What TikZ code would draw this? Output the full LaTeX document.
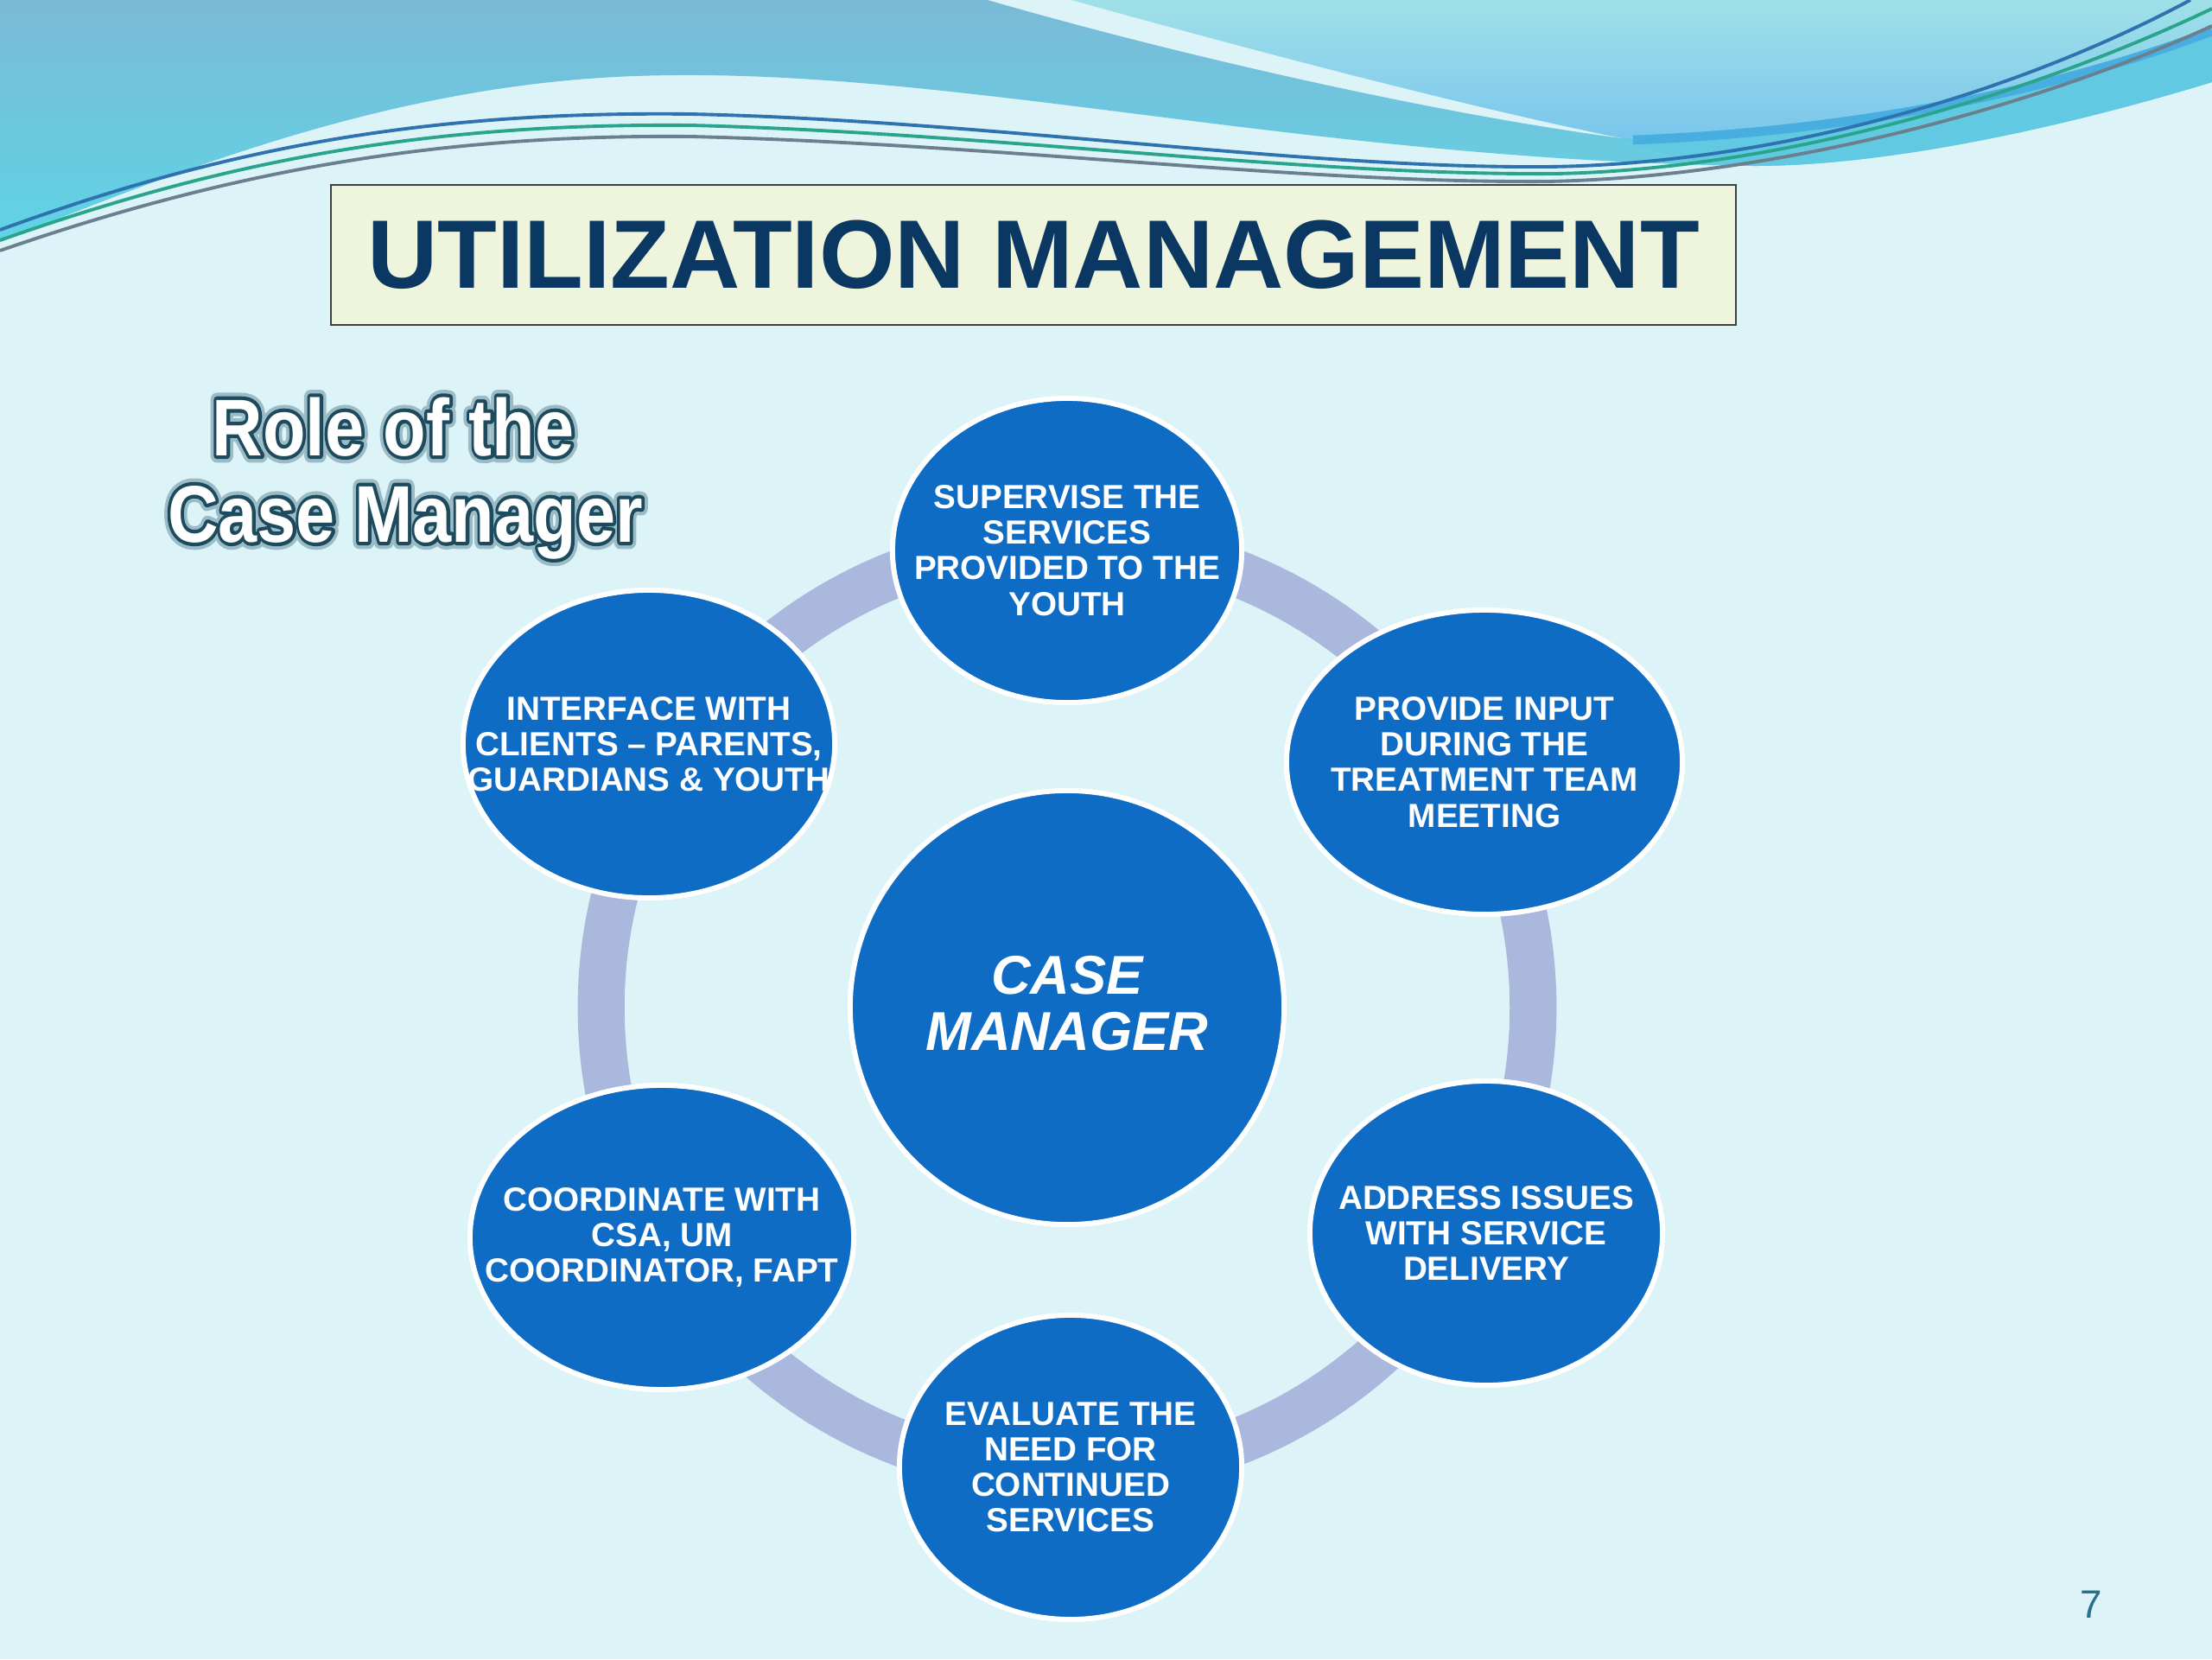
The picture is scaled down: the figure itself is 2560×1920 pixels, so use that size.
\documentclass[tikz,border=0pt]{standalone}
\usepackage{fontspec}
\setmainfont{Liberation Sans}
\newfontfamily\roleout[FakeBold=9]{Liberation Sans Bold}
\newfontfamily\roleglow[FakeBold=18]{Liberation Sans Bold}
\newfontfamily\rolein{Liberation Sans Bold}
\usetikzlibrary{shapes.geometric}
\definecolor{bg}{HTML}{DCF3F8}
\definecolor{waveAtop}{HTML}{7ABAD7}
\definecolor{waveAbot}{HTML}{5FD4E5}
\definecolor{waveBtop}{HTML}{A0E0E8}
\definecolor{waveBbot}{HTML}{7AC6EC}
\definecolor{waveC}{HTML}{62C9E2}
\definecolor{stripe}{HTML}{48AEE0}
\definecolor{lineA}{HTML}{2F72B0}
\definecolor{lineB}{HTML}{2AA58C}
\definecolor{lineC}{HTML}{6C7F8E}
\definecolor{titlefill}{HTML}{EFF4DD}
\definecolor{titletext}{HTML}{0B3763}
\definecolor{cmblue}{HTML}{0F6CC5}
\definecolor{ringc}{HTML}{AAB8DE}
\definecolor{outl}{HTML}{1D4A5C}
\definecolor{glow}{HTML}{9BBCC6}
\definecolor{pgnum}{HTML}{2A6F8A}
\begin{document}
\begin{tikzpicture}[x=0.01cm,y=-0.01cm,
  item/.style={ellipse, draw=white, line width=1.7pt, fill=cmblue, inner sep=0pt},
  itemtext/.style={text=white, font=\bfseries\fontsize{11}{11.7}\selectfont, align=center, inner sep=0pt},
  titlebox/.style={draw=black!75, line width=0.8pt, fill=titlefill, minimum width=16.25cm, minimum height=1.62cm, inner sep=0pt,
     text=titletext, font=\bfseries\fontsize{32}{32}\selectfont},
  rolebase/.style={anchor=base, inner sep=0pt, line join=round},
  thinline/.style={line width=1.1pt}
]
\useasboundingbox (0,0) rectangle (2560,1920);
\fill[bg] (0,0) rectangle (2560,1920);

% --- top waves ---
\shade[top color=waveAtop, bottom color=waveAbot]
  (0,0) -- (1143,0) .. controls (1350,60) and (1650,130) .. (1877,160)
  .. controls (2150,150) and (2380,100) .. (2560,30) -- (2560,95)
  .. controls (2380,150) and (2180,192) .. (2030,192)
  .. controls (1500,185) and (1100,75) .. (735,88)
  .. controls (450,98) and (200,200) .. (0,280) -- cycle;
\fill[waveC] (1877,160) .. controls (2150,150) and (2380,100) .. (2560,30) -- (2560,95)
  .. controls (2380,150) and (2180,192) .. (2030,192) .. controls (1960,190) and (1910,175) .. (1877,160) -- cycle;
\shade[top color=waveBtop, bottom color=waveBbot]
  (1240,0) -- (2560,0) -- (2560,30) .. controls (2380,100) and (2150,150) .. (1877,160)
  .. controls (1680,120) and (1420,50) .. (1240,0) -- cycle;
\draw[stripe, line width=3pt] (1890,162) .. controls (2150,152) and (2380,104) .. (2560,36);
\draw[thinline, lineA] (0,266) .. controls (250,175) and (480,128) .. (800,132)
  .. controls (1150,140) and (1500,195) .. (1790,193) .. controls (2050,190) and (2330,110) .. (2535,0);
\draw[thinline, lineB] (0,278) .. controls (250,190) and (480,142) .. (800,145)
  .. controls (1150,154) and (1500,203) .. (1800,201) .. controls (2060,196) and (2350,110) .. (2560,10);
\draw[thinline, lineC] (0,290) .. controls (260,200) and (500,155) .. (800,158)
  .. controls (1160,167) and (1500,212) .. (1790,210) .. controls (2060,205) and (2360,122) .. (2560,30);

% --- title ---
\node[titlebox] (title) at (1196,295) {UTILIZATION MANAGEMENT};

% --- side heading ---
\node[rolebase, text=glow, font=\roleglow\fontsize{26.5}{26.5}\selectfont] (role1g) at (455,527) {\scalebox{0.87}[1]{Role of the}};
\node[rolebase, text=outl, font=\roleout\fontsize{26.5}{26.5}\selectfont] (role1o) at (455,527) {\scalebox{0.87}[1]{Role of the}};
\node[rolebase, text=white, font=\rolein\fontsize{26.5}{26.5}\selectfont] (role1) at (455,527) {\scalebox{0.87}[1]{Role of the}};
\node[rolebase, text=glow, font=\roleglow\fontsize{26.5}{26.5}\selectfont] (role2g) at (469,627) {\scalebox{0.87}[1]{Case Manager}};
\node[rolebase, text=outl, font=\roleout\fontsize{26.5}{26.5}\selectfont] (role2o) at (469,627) {\scalebox{0.87}[1]{Case Manager}};
\node[rolebase, text=white, font=\rolein\fontsize{26.5}{26.5}\selectfont] (role2) at (469,627) {\scalebox{0.87}[1]{Case Manager}};

% --- centre ---
\node[circle, draw=white, line width=1.7pt, fill=cmblue, minimum size=5.02cm, inner sep=0pt] (cm) at (1235,1166) {};
\node[text=white, font=\bfseries\itshape\fontsize{18}{18.5}\selectfont, align=center, inner sep=0pt] (cmt) at (1235,1161) {CASE\\MANAGER};

% --- ring ---
\draw[ringc, line width=15.4pt] (cm.center) circle[radius=5.39cm];

% --- outer items ---
\node[item, minimum width=4.04cm, minimum height=3.52cm] (sup) at (1235,637) {};
\node[item, minimum width=4.58cm, minimum height=3.52cm] (prov) at (1718,882) {};
\node[item, minimum width=4.08cm, minimum height=3.52cm] (addr) at (1720,1427) {};
\node[item, minimum width=3.96cm, minimum height=3.52cm] (eval) at (1239,1698) {};
\node[item, minimum width=4.44cm, minimum height=3.52cm] (coord) at (766,1432) {};
\node[item, minimum width=4.30cm, minimum height=3.56cm] (inter) at (751,861) {};

\node[itemtext] (tsup) at (sup.center) {SUPERVISE THE\\SERVICES\\PROVIDED TO THE\\YOUTH};
\node[itemtext] (tprov) at (prov.center) {PROVIDE INPUT\\DURING THE\\TREATMENT TEAM\\MEETING};
\node[itemtext] (taddr) at (addr.center) {ADDRESS ISSUES\\WITH SERVICE\\DELIVERY};
\node[itemtext] (teval) at (eval.center) {EVALUATE THE\\NEED FOR\\CONTINUED\\SERVICES};
\node[itemtext] (tcoord) at (coord.center) {COORDINATE WITH\\CSA, UM\\COORDINATOR, FAPT};
\node[itemtext] (tinter) at (inter.center) {INTERFACE WITH\\CLIENTS – PARENTS,\\GUARDIANS \& YOUTH};

% --- page number ---
\node[text=pgnum, font=\fontsize{13}{13}\selectfont, inner sep=0pt] (pg) at (2420,1857) {7};
\end{tikzpicture}
\end{document}
